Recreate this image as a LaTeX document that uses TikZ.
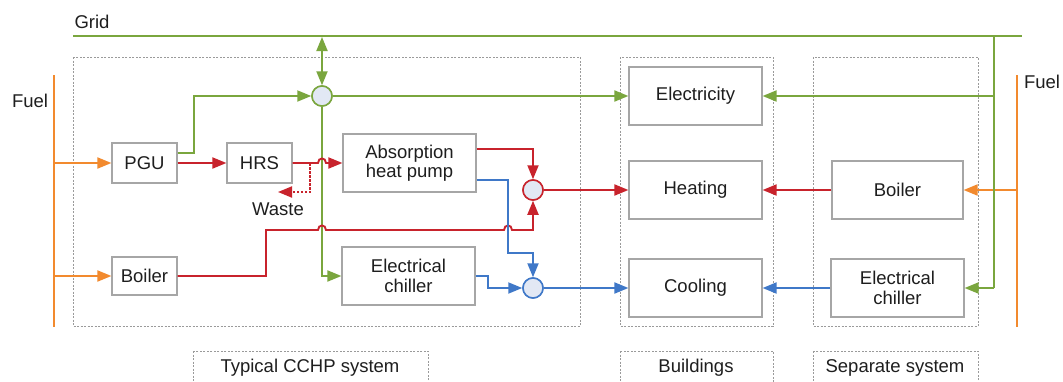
\documentclass[tikz,border=0pt]{standalone}
\usepackage{fontspec}
\setmainfont{Liberation Sans}
\usetikzlibrary{arrows.meta,calc}
\definecolor{cgreen}{HTML}{7AA63E}
\definecolor{cred}{HTML}{C8232C}
\definecolor{cblue}{HTML}{3F78C8}
\definecolor{corange}{HTML}{F28A2E}
\definecolor{cfill}{HTML}{E2E8F4}
\definecolor{cbox}{HTML}{A6A6A6}
\definecolor{cdash}{HTML}{9A9A9A}
\definecolor{ctext}{HTML}{1E1E1E}
\begin{document}
\begin{tikzpicture}[x=1pt,y=-1pt,
  font=\fontsize{18.5}{19.5}\selectfont, text=ctext,
  blk/.style={draw=cbox, line width=1.2pt, fill=white, inner sep=0pt, align=center},
  junc/.style={circle, draw=#1, line width=1.5pt, fill=cfill, minimum size=20pt, inner sep=0pt},
  dashbox/.style={draw=cdash, line width=0.9pt, dash pattern=on 2pt off 1.5pt},
  flow/.style={draw=#1, line width=1.9pt, -{Triangle[length=14pt,width=11pt]}},
  line/.style={draw=#1, line width=1.9pt}
]
\useasboundingbox (0,0) rectangle (1063,381);
\clip (0,0) rectangle (1063,381);
\fill[white] (0,0) rectangle (1063,381);

% dashed group boxes
\draw[dashbox] (73,57) rectangle (580,326);
\draw[dashbox] (620,57) rectangle (773,326);
\draw[dashbox] (813,57) rectangle (978,326);
\draw[dashbox] (193,351) rectangle (428,395);
\draw[dashbox] (620,351) rectangle (773,395);
\draw[dashbox] (813,351) rectangle (978,395);

% labels
\node (lgrid) at (92,22) {Grid};
\node (lfuelL) at (30,101) {Fuel};
\node (lfuelR) at (1042,82) {Fuel};
\node (lwaste) at (278,209) {Waste};
\node (lcchp) at (310,368) {Typical CCHP system};
\node (lbuild) at (696,368) {Buildings};
\node (lsep) at (895,368) {Separate system};

% blocks
\node[blk, minimum width=65pt, minimum height=40pt] (pgu) at (144.5,163) {PGU};
\node[blk, minimum width=65pt, minimum height=40pt] (hrs) at (259.5,163) {HRS};
\node[blk, minimum width=133pt, minimum height=58pt] (ahp) at (409.5,163) {Absorption\\heat pump};
\node[blk, minimum width=65pt, minimum height=38pt] (boilL) at (144.5,276) {Boiler};
\node[blk, minimum width=133pt, minimum height=58pt] (chilL) at (408.5,276) {Electrical\\chiller};
\node[blk, minimum width=133pt, minimum height=58pt] (elec) at (695.5,96) {Electricity};
\node[blk, minimum width=133pt, minimum height=58pt] (heat) at (695.5,190) {Heating};
\node[blk, minimum width=133pt, minimum height=58pt] (cool) at (695.5,288) {Cooling};
\node[blk, minimum width=131pt, minimum height=58pt] (boilR) at (897.5,190) {Boiler};
\node[blk, minimum width=133pt, minimum height=58pt] (chilR) at (897.5,288) {Electrical\\chiller};

% junctions
\node[junc=cgreen] (cg) at (322,96) {};
\node[junc=cred] (cr) at (533,190) {};
\node[junc=cblue] (cb) at (533,288) {};

% coordinates
\coordinate (gl) at (73,36);
\coordinate (gr) at (1022,36);
\coordinate (gc) at (322,37);
\coordinate (gx) at (994,36);
\coordinate (flT) at (54,75);
\coordinate (flB) at (54,327);
\coordinate (frT) at (1017,75);
\coordinate (frB) at (1017,327);
\coordinate (wend) at (278,192);

% grid and fuel lines
\draw[line=cgreen] (gl) -- (gr);
\draw[line=corange] (flT) -- (flB);
\draw[line=corange] (frT) -- (frB);

% fuel arrows
\draw[flow=corange] (pgu.west -| flT) -- (pgu.west);
\draw[flow=corange] (boilL.west -| flT) -- (boilL.west);
\draw[flow=corange] (boilR.east -| frT) -- (boilR.east);

% grid <-> junction
\draw[line=cgreen, {Triangle[length=14pt,width=11pt]}-{Triangle[length=14pt,width=11pt]}] (gc) -- (cg.north);

% PGU electricity to junction
\draw[flow=cgreen] ($(pgu.east)+(0,-10)$) -- ++(16,0) |- (cg.west);
% junction to electricity
\draw[flow=cgreen] (cg.east) -- (elec.west);
% junction down to electrical chiller
\draw[flow=cgreen] (cg.south) |- (chilL.west);

% right grid to separate system
\draw[line=cgreen] (gx) -- (gx |- chilR.east);
\draw[flow=cgreen] (gx |- chilR.east) -- (chilR.east);
\draw[flow=cgreen] (gx |- elec.east) -- (elec.east);

% PGU -> HRS
\draw[flow=cred] (pgu.east) -- (hrs.west);
% HRS -> AHP with hop over green line
\draw[flow=cred] (hrs.east) -- (318,163) .. controls (318,157) and (326,157) .. (326,163) -- (ahp.west |- hrs.east);
% waste
\draw[draw=cred, line width=1.9pt, dash pattern=on 2.5pt off 1.5pt, -{Triangle[length=14pt,width=11pt]}] (310,163) |- (wend);

% boiler -> red junction with hops
\draw[flow=cred] (boilL.east) -- (266,276) -- (266,230) -- (318,230) .. controls (318,224) and (326,224) .. (326,230) -- (504,230) .. controls (504,224) and (512,224) .. (512,230) -- (cr.south |- 0,230) -- (cr.south);
% AHP -> red junction
\draw[flow=cred] ($(ahp.east)+(0,-14)$) -| (cr.north);
% AHP -> blue junction
\draw[flow=cblue] ($(ahp.east)+(0,17)$) -- (508,180) -- (508,253) -| (cb.north);
% chiller -> blue junction
\draw[flow=cblue] (chilL.east) -- ++(12,0) |- (cb.west);

% junctions -> buildings
\draw[flow=cred] (cr.east) -- (heat.west);
\draw[flow=cblue] (cb.east) -- (cb.east -| cool.west);
\draw[flow=cred] (boilR.west) -- (heat.east);
\draw[flow=cblue] (chilR.west) -- (chilR.west -| cool.east);

% redraw junctions on top
\node[junc=cgreen] at (cg) {};
\node[junc=cred] at (cr) {};
\node[junc=cblue] at (cb) {};
\end{tikzpicture}
\end{document}
